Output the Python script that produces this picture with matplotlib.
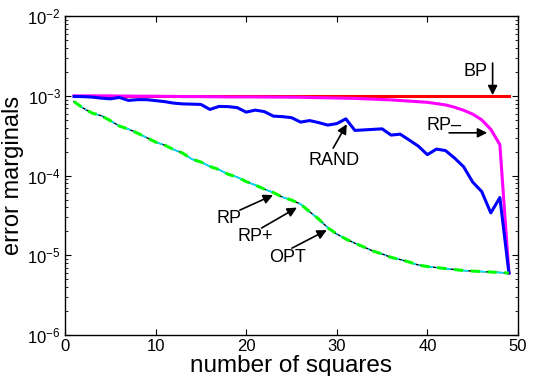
import numpy as np
import matplotlib
matplotlib.use('Agg')
import matplotlib.pyplot as plt

plt.rcParams['font.family'] = ['Liberation Sans', 'DejaVu Sans']
plt.rcParams['mathtext.fontset'] = 'custom'
plt.rcParams['mathtext.rm'] = 'Liberation Sans'
plt.rcParams['mathtext.it'] = 'Liberation Sans:italic'

# number of squares
squares = list(range(1, 50))

# BP stays flat
bp = [1.0e-3] * 49

# RP- (magenta)
rp_minus = [1.0e-3, 1.0e-3, 1.0e-3, 1.0e-3, 1.0e-3, 0.995e-3, 0.995e-3, 0.99e-3, 0.99e-3, 0.99e-3,
            0.985e-3, 0.985e-3, 0.98e-3, 0.98e-3, 0.98e-3, 0.975e-3, 0.975e-3, 0.97e-3, 0.97e-3, 0.97e-3,
            0.97e-3, 0.968e-3, 0.966e-3, 0.965e-3, 0.963e-3, 0.96e-3, 0.955e-3, 0.95e-3, 0.945e-3, 0.94e-3,
            0.935e-3, 0.93e-3, 0.92e-3, 0.91e-3, 0.90e-3, 0.89e-3, 0.875e-3, 0.86e-3, 0.845e-3, 0.83e-3,
            0.80e-3, 0.77e-3, 0.72e-3, 0.66e-3, 0.59e-3, 0.50e-3, 0.38e-3, 0.245e-3, 6.0e-6]

# RAND (blue)
rand = [0.984e-3, 0.979e-3, 0.965e-3, 0.937e-3, 0.918e-3, 0.956e-3, 0.877e-3, 0.897e-3, 0.897e-3, 0.872e-3,
        0.847e-3, 0.811e-3, 0.793e-3, 0.788e-3, 0.781e-3, 0.676e-3, 0.738e-3, 0.733e-3, 0.713e-3, 0.625e-3,
        0.663e-3, 0.635e-3, 0.557e-3, 0.549e-3, 0.533e-3, 0.469e-3, 0.490e-3, 0.462e-3, 0.430e-3, 0.449e-3,
        0.515e-3, 0.369e-3, 0.374e-3, 0.380e-3, 0.386e-3, 0.322e-3, 0.331e-3, 0.279e-3, 0.234e-3, 0.183e-3,
        0.215e-3, 0.206e-3, 0.166e-3, 0.129e-3, 0.083e-3, 0.063e-3, 0.034e-3, 0.053e-3, 0.006e-3]

# OPT, RP and RP+ lie on top of each other
opt = [8.47e-4, 7.02e-4, 6.08e-4, 5.65e-4, 4.89e-4, 4.18e-4, 3.83e-4, 3.41e-4, 3.00e-4, 2.63e-4,
       2.41e-4, 2.12e-4, 1.91e-4, 1.61e-4, 1.48e-4, 1.30e-4, 1.19e-4, 1.04e-4, 9.58e-5, 8.41e-5,
       7.60e-5, 6.77e-5, 6.12e-5, 5.37e-5, 4.93e-5, 4.39e-5, 3.52e-5, 2.85e-5, 2.22e-5, 1.85e-5,
       1.60e-5, 1.42e-5, 1.27e-5, 1.13e-5, 1.04e-5, 9.42e-6, 8.84e-6, 8.23e-6, 7.55e-6, 7.23e-6,
       7.02e-6, 6.82e-6, 6.63e-6, 6.44e-6, 6.34e-6, 6.25e-6, 6.17e-6, 6.08e-6, 5.99e-6]
rp = list(opt)
rp_plus = list(opt)

fig = plt.figure(figsize=(5.39, 3.76), dpi=100)
ax = fig.add_axes([0.1206, 0.109, 0.8404, 0.848])

ax.semilogy(squares, bp, color='#ff0000', linewidth=2.2)
ax.semilogy(squares, rp_minus, color='#ff00ff', linewidth=2.2)
ax.semilogy(squares, rand, color='#0000ff', linewidth=2.2)
ax.semilogy(squares, rp, color='black', linewidth=1.0)
ax.semilogy(squares, rp_plus, color='#00e5ff', linewidth=1.2, linestyle='-.')
ax.semilogy(squares, opt, color='#00ff00', linewidth=2.2, linestyle='--', dashes=(3, 2.5))

ax.set_xlim(0, 50)
ax.set_ylim(1e-6, 1e-2)
ax.set_xticks([0, 10, 20, 30, 40, 50])
ax.tick_params(which='both', direction='in', top=True, right=True, labelsize=12, pad=3)
ax.tick_params(which='major', length=4, width=0.8)
ax.tick_params(which='minor', length=2, width=0.6)
for s in ax.spines.values():
    s.set_linewidth(1.0)

ax.set_xlabel('number of squares', fontsize=17.5)
ax.set_ylabel('error marginals', fontsize=17)
ax.xaxis.set_label_coords(0.5, -0.062)
ax.yaxis.set_label_coords(-0.09, 0.5)

arrow = dict(arrowstyle='-|>', color='black', linewidth=1.2, mutation_scale=14, shrinkA=0, shrinkB=0)
fs = 13

# BP
ax.annotate('', xy=(47.2, 1.02e-3), xytext=(47.2, 2.58e-3), arrowprops=arrow)
ax.text(46.6, 2.04e-3, 'BP', fontsize=fs, ha='right', va='center')
# RP-
ax.annotate('', xy=(46.6, 3.44e-4), xytext=(42.4, 3.44e-4), arrowprops=arrow)
ax.text(39.9, 4.3e-4, 'RP\u2013', fontsize=fs, ha='left', va='center')
# RAND
ax.annotate('', xy=(31.1, 4.42e-4), xytext=(29.6, 2.21e-4), arrowprops=arrow)
ax.text(29.7, 1.56e-4, 'RAND', fontsize=fs, ha='center', va='center')
# RP
ax.annotate('', xy=(22.96, 5.69e-5), xytext=(19.3, 3.69e-5), arrowprops=arrow)
ax.text(18.1, 2.89e-5, 'RP', fontsize=fs, ha='center', va='center')
# RP+
ax.annotate('', xy=(25.6, 3.97e-5), xytext=(21.7, 2.2e-5), arrowprops=arrow)
ax.text(21.0, 1.72e-5, 'RP+', fontsize=fs, ha='center', va='center')
# OPT
ax.annotate('', xy=(28.9, 2.07e-5), xytext=(25.05, 1.23e-5), arrowprops=arrow)
ax.text(24.6, 9.37e-6, 'OPT', fontsize=fs, ha='center', va='center')

plt.savefig('out.png', dpi=100)
